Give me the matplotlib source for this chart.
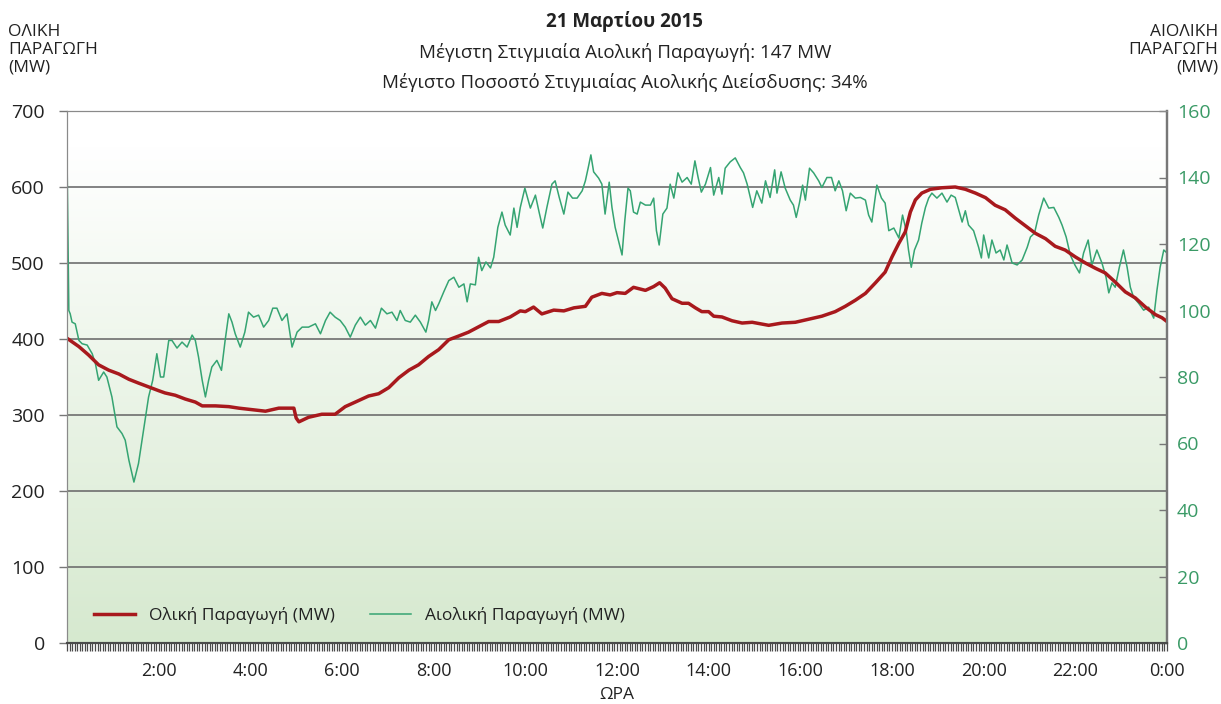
import numpy as np
import matplotlib
matplotlib.use("Agg")
import matplotlib.pyplot as plt
from matplotlib.ticker import MultipleLocator
from matplotlib.colors import LinearSegmentedColormap

plt.rcParams['font.family'] = ['Open Sans', 'DejaVu Sans']

# hours of the day, wind output (MW, right axis)
wind_t = [0.00, 0.04, 0.07, 0.11, 0.18, 0.26, 0.33, 0.44, 0.55, 0.62, 0.69, 0.80, 0.87, 0.98,
          1.09, 1.20, 1.27, 1.35, 1.46, 1.56, 1.67, 1.78, 1.87, 1.96, 2.04, 2.11, 2.22, 2.29,
          2.40, 2.51, 2.62, 2.73, 2.80, 2.87, 2.95, 3.02, 3.09, 3.16, 3.27, 3.37, 3.45, 3.53,
          3.60, 3.67, 3.78, 3.88, 3.96, 4.07, 4.18, 4.29, 4.40, 4.49, 4.58, 4.69, 4.80, 4.91,
          5.02, 5.13, 5.27, 5.42, 5.53, 5.64, 5.74, 5.85, 5.96, 6.07, 6.18, 6.29, 6.40, 6.51,
          6.62, 6.73, 6.86, 6.98, 7.09, 7.20, 7.27, 7.38, 7.49, 7.60, 7.71, 7.83, 7.89, 7.96,
          8.04, 8.11, 8.22, 8.33, 8.44, 8.55, 8.66, 8.73, 8.80, 8.91, 8.98, 9.05, 9.14, 9.24,
          9.31, 9.40, 9.49, 9.56, 9.67, 9.75, 9.82, 9.89, 9.99, 10.11, 10.22, 10.30, 10.38,
          10.47, 10.58, 10.65, 10.74, 10.84, 10.93, 11.03, 11.13, 11.24, 11.31, 11.37, 11.43,
          11.49, 11.60, 11.67, 11.74, 11.83, 11.89, 11.96, 12.04, 12.11, 12.17, 12.24, 12.29,
          12.36, 12.44, 12.51, 12.62, 12.73, 12.80, 12.86, 12.92, 13.00, 13.09, 13.16, 13.24,
          13.33, 13.42, 13.53, 13.62, 13.70, 13.77, 13.84, 13.93, 14.04, 14.11, 14.22, 14.29,
          14.36, 14.47, 14.58, 14.69, 14.76, 14.84, 14.96, 15.05, 15.16, 15.24, 15.34, 15.44,
          15.49, 15.58, 15.67, 15.78, 15.85, 15.91, 15.98, 16.05, 16.11, 16.20, 16.29, 16.40,
          16.47, 16.58, 16.68, 16.76, 16.84, 16.92, 17.00, 17.09, 17.20, 17.31, 17.42, 17.49,
          17.56, 17.67, 17.77, 17.85, 17.93, 18.04, 18.15, 18.23, 18.31, 18.36, 18.42, 18.49,
          18.58, 18.65, 18.73, 18.80, 18.87, 18.98, 19.09, 19.20, 19.29, 19.38, 19.46, 19.53,
          19.60, 19.67, 19.78, 19.89, 19.95, 20.00, 20.11, 20.18, 20.27, 20.36, 20.44, 20.51,
          20.62, 20.73, 20.84, 20.95, 21.02, 21.11, 21.20, 21.31, 21.42, 21.53, 21.64, 21.71,
          21.80, 21.89, 21.99, 22.09, 22.18, 22.28, 22.36, 22.47, 22.58, 22.67, 22.73, 22.80,
          22.87, 22.96, 23.05, 23.13, 23.20, 23.27, 23.38, 23.49, 23.60, 23.71, 23.78, 23.85,
          23.93, 24.00]
wind_mw = [147, 100, 99, 96.5, 96, 91, 90, 89.6, 87, 84, 79, 81.5, 80, 74,
           65, 63, 61, 55, 48.4, 54, 64, 74, 79, 87, 80, 80, 91, 91,
           88.7, 90.5, 89, 92.6, 91, 86, 79, 74, 79, 83, 85, 82, 91, 99,
           96.5, 93, 89, 93.5, 99.5, 98, 98.6, 95, 97, 100.7, 100.7, 97, 99, 89,
           93.5, 95, 95, 96, 93, 97, 99.5, 98, 97, 95, 92, 95.6, 98, 95.6,
           97, 94.7, 100.7, 99, 99.5, 97, 100, 97, 96.5, 98.6, 96.5, 93.5, 97, 102.6,
           100, 102, 105.6, 109, 110, 107, 108, 102.6, 108, 107.7, 116, 112, 114.6, 112.8,
           116, 125, 129.6, 125.7, 122.7, 130.8, 125, 131, 136.8, 130.8, 134.7, 129.6, 124.8,
           131, 138, 139, 134, 129, 135.6, 133.8, 133.8, 136, 139, 142.8, 146.8,
           141.7, 139.8, 138, 129, 138.6, 131, 125, 120.6, 116.7, 127, 136.8, 136,
           129.6, 129, 132.6, 131.7, 131.7, 133.8, 124, 119.7, 129, 130.8, 138, 133.8,
           141.4, 138.6, 140, 138, 145, 140, 135.6, 138, 143, 134.7, 140, 135,
           142.8, 144.7, 145.9, 143, 141.4, 138, 131, 136, 132.3, 139, 134, 142.3,
           135.3, 141.7, 136.8, 133.2, 131.7, 128, 132.3, 137.7, 133.2, 142.8, 141.4, 139,
           137, 140, 140, 136, 139, 136, 130, 135.3, 133.8, 134, 133.2, 128.7,
           126.6, 137.7, 133.8, 132.3, 124, 124.8, 121.8, 128.7, 124, 118.2, 113, 118.2,
           121.2, 126.3, 131, 133.8, 135.3, 133.8, 135.3, 132.6, 134.7, 134, 130, 126.6,
           130, 125.7, 124, 119, 115.8, 122.7, 115.8, 121.2, 117.3, 118.2, 115.2, 119.7,
           114.3, 113.7, 115.2, 119, 122.1, 123.3, 128.7, 133.8, 130.8, 131, 128, 125.7,
           122.1, 116.7, 113.7, 111.3, 117.3, 121.2, 113.7, 118.2, 114.3, 110, 105.3, 108.3,
           107, 113, 118.2, 113, 107, 104, 102.2, 100.1, 101, 97.7, 106, 113,
           118.2, 117.3]

# hours of the day, total output (MW, left axis)
total_t = [0.00, 0.26, 0.47, 0.69, 0.91, 1.13, 1.35, 1.56, 1.78, 2.00, 2.14, 2.36, 2.58, 2.80,
           2.95, 3.24, 3.53, 3.75, 4.04, 4.33, 4.62, 4.95, 5.00, 5.06, 5.27, 5.56, 5.85, 6.07,
           6.29, 6.58, 6.80, 7.02, 7.24, 7.46, 7.67, 7.89, 8.11, 8.33, 8.55, 8.76, 8.98, 9.20,
           9.42, 9.67, 9.89, 10.00, 10.18, 10.36, 10.62, 10.84, 11.06, 11.31, 11.45, 11.67,
           11.85, 12.00, 12.18, 12.36, 12.62, 12.80, 12.93, 13.05, 13.20, 13.42, 13.56, 13.71,
           13.85, 14.00, 14.11, 14.29, 14.51, 14.73, 14.95, 15.31, 15.60, 15.89, 16.18, 16.47,
           16.76, 16.98, 17.20, 17.42, 17.64, 17.85, 18.00, 18.15, 18.29, 18.40, 18.51, 18.65,
           18.84, 19.09, 19.38, 19.60, 19.82, 20.04, 20.25, 20.47, 20.69, 20.91, 21.13, 21.35,
           21.56, 21.78, 22.00, 22.22, 22.44, 22.65, 22.87, 23.09, 23.31, 23.53, 23.75, 23.89,
           24.00]
total_mw = [401, 390, 379, 366, 359, 354, 347, 342, 337, 332, 329, 326, 321, 317,
            312, 312, 311, 309, 307, 305, 309, 309, 296, 291, 297, 301, 301, 311,
            317, 325, 328, 336, 349, 359, 366, 377, 386, 399, 404, 409, 416, 423,
            423, 429, 437, 436, 442, 433, 438, 437, 441, 443, 455, 460,
            458, 461, 460, 468, 464, 469, 474, 467, 453, 447, 447, 441,
            436, 436, 430, 429, 424, 421, 422, 418, 421, 422, 426, 430,
            436, 443, 451, 460, 474, 488, 508, 526, 541, 567, 583, 592,
            597, 599, 600, 597, 592, 586, 576, 570, 559, 549, 539, 532,
            522, 517, 508, 500, 493, 487, 475, 462, 454, 442, 432, 428,
            423]

hour_ticks = list(range(2, 25, 2))
hour_labels = ["%d:00" % (h % 24) for h in hour_ticks]
left_ticks = list(range(0, 701, 100))
right_ticks = list(range(0, 161, 20))

RED = '#a8191d'
GREEN = '#35a472'
GREEN_TXT = '#3a9a66'
GRID = '#6e6e6e'

fig = plt.figure(figsize=(12.21, 7.04), dpi=100)
pos = [67 / 1221, 1 - 643 / 704, 1100 / 1221, 532 / 704]

# background gradient + grid
bg = fig.add_axes(pos, zorder=0)
grad = np.linspace(0, 1, 256).reshape(-1, 1)
cmap = LinearSegmentedColormap.from_list('g', [(0, '#ffffff'), (0.07, '#ffffff'), (1, '#d6e9cf')])
bg.imshow(grad, aspect='auto', cmap=cmap, extent=[0, 1, 0, 1], transform=bg.transAxes)
bg.set_xlim(0, 24)
bg.set_ylim(0, 700)
bg.set_yticks(left_ticks[1:-1])
bg.grid(axis='y', color=GRID, lw=1.2)
bg.tick_params(length=0, labelleft=False, labelbottom=False)
bg.set_xticks([])
for s in bg.spines.values():
    s.set_visible(False)

ax = fig.add_axes(pos, zorder=2)
ax.patch.set_visible(False)
ax2 = ax.twinx()
ax2.set_zorder(1)
ax2.patch.set_visible(False)

l2, = ax2.plot(wind_t, wind_mw, color=GREEN, lw=1.1, label='Αιολική Παραγωγή (MW)')
l1, = ax.plot(total_t, total_mw, color=RED, lw=2.5, label='Ολική Παραγωγή (MW)')

ax.set_xlim(0, 24)
ax.set_ylim(0, 700)
ax2.set_ylim(0, 160)

ax.set_xticks(hour_ticks)
ax.set_xticklabels(hour_labels)
ax.xaxis.set_minor_locator(MultipleLocator(1 / 18))
ax.tick_params(axis='x', which='both', direction='out', length=6, width=0.9, color='#4a4a4a',
               labelsize=13, pad=8, labelcolor='#222222')
ax.set_yticks(left_ticks)
ax.tick_params(axis='y', direction='out', length=6, width=1, color='#777777',
               labelsize=14, pad=10, labelcolor='#222222')
ax2.set_yticks(right_ticks)
ax2.tick_params(axis='y', direction='in', length=6, width=1, color='#777777',
                labelsize=14, pad=7, labelcolor=GREEN_TXT)

for a in (ax, ax2):
    a.spines['top'].set_color('#8a8a8a')
    a.spines['left'].set_color('#8a8a8a')
    a.spines['right'].set_color('#777777')
    a.spines['right'].set_linewidth(1.6)
    a.spines['bottom'].set_color('#4a4a4a')
    a.spines['bottom'].set_linewidth(1.5)

ax.set_xlabel('ΩΡΑ', fontsize=12.5, color='#222222', labelpad=5)

leg = ax.legend(handles=[l1, l2], loc='lower left', bbox_to_anchor=(0.01, 0.006), ncol=2,
                frameon=False, fontsize=12.5, handlelength=2.4, handletextpad=0.8,
                columnspacing=2.0)
for t in leg.get_texts():
    t.set_color('#222222')

cx = 625 / 1221
fig.text(cx, 1 - 22 / 704, '21 Μαρτίου 2015', ha='center', va='center', fontsize=13.5,
         fontweight='bold', color='#222222')
fig.text(cx, 1 - 53 / 704, 'Μέγιστη Στιγμιαία Αιολική Παραγωγή: 147 MW', ha='center',
         va='center', fontsize=13.5, color='#222222')
fig.text(cx, 1 - 82 / 704, 'Μέγιστο Ποσοστό Στιγμιαίας Αιολικής Διείσδυσης: 34%', ha='center',
         va='center', fontsize=13.5, color='#222222')
fig.text(8 / 1221, 1 - 50 / 704, 'ΟΛΙΚΗ\nΠΑΡΑΓΩΓΗ\n(MW)', ha='left', va='center',
         fontsize=12.5, linespacing=1.15, color='#222222')
fig.text(1218 / 1221, 1 - 50 / 704, 'ΑΙΟΛΙΚΗ\nΠΑΡΑΓΩΓΗ\n(MW)', ha='right', va='center',
         fontsize=12.5, linespacing=1.15, color='#222222', multialignment='right')

fig.savefig('out.png', dpi=100)
